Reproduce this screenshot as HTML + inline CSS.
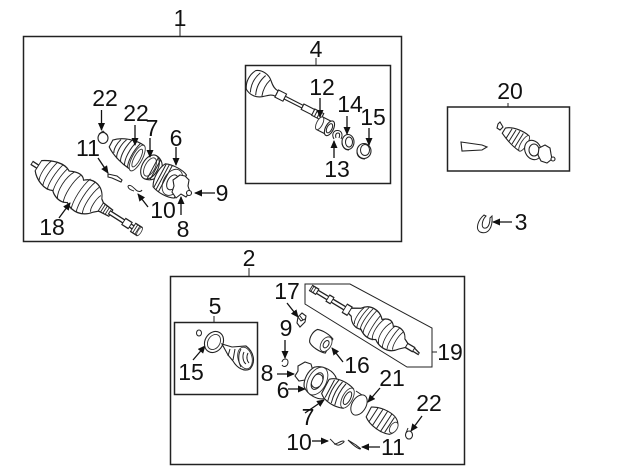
<!DOCTYPE html>
<html><head><meta charset="utf-8"><style>
html,body{margin:0;padding:0;background:#fff}
svg{display:block}
text{font-family:"Liberation Sans",sans-serif;font-size:23px;fill:#111;text-anchor:middle}
.b{fill:none;stroke:#222;stroke-width:1.5}
.t{fill:none;stroke:#222;stroke-width:1}
.p{fill:#fff;stroke:#222;stroke-width:1.1}
.s{fill:#fff;stroke:#333;stroke-width:.9}
.a{stroke:#111;stroke-width:1.3;fill:none}
</style></head><body>
<svg width="640" height="471" viewBox="0 0 640 471" xmlns="http://www.w3.org/2000/svg">
<defs>
<marker id="m" markerWidth="8" markerHeight="7" refX="7" refY="3.5" orient="auto" markerUnits="userSpaceOnUse"><path d="M0 0L8 3.5L0 7z" fill="#111"/></marker>
</defs>
<rect width="640" height="471" fill="#fff"/>
<!-- boxes -->
<rect class="b" x="23.5" y="36.5" width="378" height="205"/>
<rect class="b" x="245.5" y="65.5" width="145" height="118"/>
<rect class="b" x="447.5" y="107" width="122" height="64"/>
<rect class="b" x="170.5" y="276.5" width="294" height="188"/>
<rect class="b" x="174.5" y="322.5" width="83" height="72"/>
<path class="t" d="M305 284H350L432 328V367H407L305 304Z"/>
<path class="t" d="M180 25V36M316 58V65M508 103V107M249 268V276M214 316V322M432 352H437"/>

<!-- left axle, box 1 -->
<g transform="translate(32,163) rotate(32.500) scale(.85,1.2)">
<path class="p" d="M0 -1.500H10V1.500H0Z"/>
<path class="p" d="M8 -6C18 -11 32 -15 42 -11C50 -14 58 -15 62 -11C72 -18 86 -15 92 -6L98 -3V3L92 7C84 15 70 17 60 12C52 16 42 13 38 10C28 14 14 9 8 4Z"/>
<path class="t" d="M18 -10C15 -4 15 5 18 9M25 -12C22 -4 22 6 25 11M32 -13C29 -4 29 7 32 12M39 -12C36 -4 36 6 39 11M48 -13C42 -5 42 8 48 14M56 -13C52 -5 52 8 56 14M68 -15C64 -6 64 8 68 15M75 -15C71 -6 71 8 75 15M82 -13C78 -5 78 8 82 13M89 -8C86 -4 86 6 89 8"/>
<path class="p" d="M96 -4L110 -3V3L96 4Z"/>
<path class="t" d="M99 -4V4M102 -4V4M105 -3V3"/>
<path class="p" d="M108 -1.500H128V1.500H108ZM128 -3H137V3H128ZM137 -1.500H141V1.500H137ZM141 -4H150V4H141Z"/>
<path class="t" d="M144 -4V4M147 -4V4"/>
<ellipse class="s" cx="150" cy="0" rx="2" ry="4"/>
</g>

<!-- clip / boot top -->
<ellipse class="p" cx="103" cy="138" rx="5" ry="5.500"/>
<path class="t" d="M99 134L103 131L107 135"/>
<g transform="translate(124,151) rotate(28) scale(1,1.1)">
<path class="p" d="M-15 -4C-8 -11 6 -14 15 -13L16 12C6 12 -8 8 -15 3Z"/>
<ellipse class="s" cx="15" cy="0" rx="5" ry="13"/>
<ellipse class="s" cx="15" cy="0" rx="3" ry="9"/>
<path class="t" d="M-8 -8C-10 -3 -10 3 -8 6M-3 -10C-6 -4 -6 5 -3 9M2 -12C-1 -4 -1 6 2 10M7 -13C4 -4 4 6 7 11M11 -13C8 -4 8 7 11 12"/>
</g>
<g transform="translate(150,167) rotate(28)">
<path class="p" d="M0 -13C7 -13 12 -7 12 0C12 7 7 13 0 13"/>
<ellipse class="p" cx="0" cy="0" rx="8" ry="13"/>
<ellipse class="s" cx="0" cy="0" rx="5" ry="10"/>
<path class="t" d="M3 -13V13M6 -11V11"/>
</g>
<g transform="translate(168,180) rotate(28)">
<path class="p" d="M-10 -13C-3 -16 9 -16 14 -13L14 13C8 16 -3 16 -10 13C-14 6 -14 -6 -10 -13Z"/>
<ellipse class="s" cx="5" cy="0" rx="9" ry="14"/>
<ellipse class="t" cx="5" cy="0" rx="5" ry="8"/>
<path class="t" d="M-6 -14V14M-3 -15V15M-9 -13V13"/>
</g>
<path class="p" d="M180 175L185 176L189 180L188 186L190 192L186 197L181 194L176 198L172 192L174 186L173 180Z"/>
<circle class="p" cx="189" cy="193" r="2.500"/>
<!-- hardware 11 and 10 -->
<path class="p" d="M108 174L117 176L122 180L121 182L112 178L108 177Z"/>
<path class="t" d="M128 186C130 184 133 187 136 190C138 192 141 192 142 190M128 186C128 189 131 190 134 191"/>

<!-- labels box 1 -->
<text x="180" y="26">1</text>
<text x="105" y="106">22</text>
<text x="136" y="121">22</text>
<text x="152" y="136">7</text>
<text x="176" y="146">6</text>
<text x="88" y="156">11</text>
<text x="222" y="201">9</text>
<text x="163" y="218">10</text>
<text x="183" y="237">8</text>
<text x="52" y="235">18</text>
<path class="a" marker-end="url(#m)" d="M101.500 110V130"/>
<path class="a" marker-end="url(#m)" d="M135 125V145"/>
<path class="a" marker-end="url(#m)" d="M150 138V157"/>
<path class="a" marker-end="url(#m)" d="M176 147V165"/>
<path class="a" marker-end="url(#m)" d="M98 158L108 173"/>
<path class="a" marker-end="url(#m)" d="M215 193H195"/>
<path class="a" marker-end="url(#m)" d="M148 207L138 194"/>
<path class="a" marker-end="url(#m)" d="M181 215V197"/>
<path class="a" marker-end="url(#m)" d="M59 218L70 203"/>

<!-- box 4 parts -->
<g transform="translate(258,84) rotate(27)">
<path class="p" d="M-8 -11C-2 -15 6 -13 10 -9C14 -5 17 -3 21 -3L21 3C16 3 14 6 10 9C5 13 -2 14 -8 10C-12 4 -12 -5 -8 -11Z"/>
<path class="t" d="M-3 -11C-6 -4 -6 4 -3 11M3 -11C0 -4 0 4 3 11M9 -9C7 -3 7 3 9 9"/>
<path class="p" d="M21 -4H30V4H21ZM30 -1.500H50V1.500H30ZM50 -3H62V3H50ZM62 -3.500H72V3.500H62Z"/>
<path class="t" d="M65 -3.500V3.500M68 -3.500V3.500"/>
</g>
<g transform="translate(325,126) rotate(27)">
<path class="p" d="M-6 -7H5V7H-6Z"/>
<ellipse class="s" cx="-6" cy="0" rx="3" ry="7"/>
<ellipse class="p" cx="5" cy="0" rx="4" ry="8"/>
<ellipse class="t" cx="5" cy="0" rx="2.500" ry="5"/>
</g>
<path class="t" stroke-width="1.500" d="M334 139C331 134 334 130 338 130.500C342 131 343 135 341 139M336 138C335 135 336 133 338 133C340 133 340 135 339 138"/>
<ellipse class="p" cx="348" cy="142" rx="6" ry="7.500"/>
<ellipse class="t" cx="349" cy="142" rx="3.500" ry="5"/>
<path class="t" d="M342 142C342 147 345 150 349 150"/>
<ellipse class="p" cx="364" cy="151" rx="7" ry="7.500"/>
<ellipse class="t" cx="365" cy="150" rx="4.500" ry="5.500"/>
<path class="t" d="M357 152C357 156 360 159 365 159"/>
<text x="316" y="57">4</text>
<text x="322" y="95">12</text>
<text x="350" y="112">14</text>
<text x="373" y="125">15</text>
<text x="337" y="177">13</text>
<path class="a" marker-end="url(#m)" d="M320 98V117"/>
<path class="a" marker-end="url(#m)" d="M347 116V134"/>
<path class="a" marker-end="url(#m)" d="M369 128V145"/>
<path class="a" marker-end="url(#m)" d="M334 158V141"/>

<!-- box 20 -->
<text x="510" y="99">20</text>
<path class="p" d="M461 142L482 145L487 147L482 150L462 151Z"/>
<path class="p" d="M498 124L500 122L503 127L500 130L497 128Z"/>
<g transform="translate(514,137) rotate(32)">
<path class="p" d="M-12 -3C-6 -9 6 -10 12 -9V9C5 9 -5 6 -12 3Z"/>
<ellipse class="s" cx="12" cy="0" rx="3" ry="9"/>
<path class="t" d="M-6 -6V5M-2 -7V7M2 -8V7M6 -8V8"/>
</g>
<ellipse class="p" cx="533" cy="150" rx="8" ry="10" transform="rotate(-25 533 150)"/>
<ellipse class="t" cx="534" cy="150" rx="5" ry="6"/>
<path class="p" d="M545 145L550 148L551 154L552 159L547 163L541 161L538 155L539 148Z"/>
<circle class="p" cx="553" cy="159" r="2"/>

<!-- 3 -->
<path class="t" stroke-width="1.400" d="M484 215C478 220 475 229 480 232C488 235 493 228 492 216L490 218C490 224 488 229 484 228C481 227 482 220 486 216Z"/>
<text x="521" y="230">3</text>
<path class="a" marker-end="url(#m)" d="M512 222H493"/>

<!-- box 2 labels -->
<text x="249" y="266">2</text>
<text x="215" y="314">5</text>
<text x="191" y="380">15</text>
<text x="287" y="299">17</text>
<text x="286" y="336">9</text>
<text x="267" y="381">8</text>
<text x="283" y="398">6</text>
<text x="357" y="373">16</text>
<text x="450" y="360">19</text>
<text x="392" y="386">21</text>
<text x="429" y="411">22</text>
<text x="308" y="425">7</text>
<text x="299" y="450">10</text>
<text x="393" y="455">11</text>
<path class="a" marker-end="url(#m)" d="M193 360L205 346"/>
<path class="a" marker-end="url(#m)" d="M287 303L298 317"/>
<path class="a" marker-end="url(#m)" d="M285 340V358"/>
<path class="a" marker-end="url(#m)" d="M277 374H294"/>
<path class="a" marker-end="url(#m)" d="M288 389H305"/>
<path class="a" marker-end="url(#m)" d="M343 362L332 348"/>
<path class="a" marker-end="url(#m)" d="M380 388L368 402"/>
<path class="a" marker-end="url(#m)" d="M422 416L411 431"/>
<path class="a" marker-end="url(#m)" d="M305 413L324 400"/>
<path class="a" marker-end="url(#m)" d="M312 441H328"/>
<path class="a" marker-end="url(#m)" d="M380 447H362"/>

<!-- box 5 part -->
<ellipse class="t" cx="199" cy="333" rx="2.500" ry="3"/>
<g transform="translate(214,342) rotate(30)">
<ellipse class="p" cx="0" cy="0" rx="9" ry="11"/>
<ellipse class="s" cx="0" cy="0" rx="6" ry="8"/>
</g>
<path class="p" d="M222 344L232 347L246 346C254 352 256 362 250 369C244 372 237 368 233 361L228 355Z"/>
<ellipse class="s" cx="245" cy="358" rx="7" ry="11" transform="rotate(-15 245 358)"/>
<path class="t" d="M230 349L228 356M235 349L233 360M241 349C238 354 238 362 241 367M244 352C242 356 243 362 246 364M248 353C246 357 247 361 249 363"/>

<!-- 17, 9 parts -->
<path class="p" d="M298 317L302 313L306 316L305 322L300 327L297 323Z"/>
<path class="t" d="M298 317L301 321L305 319M300 316L303 320"/>
<path class="t" stroke-width="1.300" d="M282 362C283 358 288 358 288 362C288 366 284 368 282 365"/>

<!-- 19 axle -->
<g transform="translate(311,288) rotate(31) scale(.82,1.2)">
<path class="p" d="M0 -2.500H9V2.500H0Z"/>
<path class="t" d="M2 -2.500V2.500M5 -2.500V2.500"/>
<path class="p" d="M9 -1.500H24V1.500H9ZM24 -3H30V3H24ZM30 -1.500H48V1.500H30ZM48 -4H55V4H48Z"/>
<path class="p" d="M55 -3L65 -7C72 -14 86 -14 94 -8C100 -12 106 -12 110 -8C116 -11 126 -10 130 -4L136 -2V2L130 6C122 14 108 13 100 9C94 12 86 12 78 8C72 10 64 8 60 3L55 2Z"/>
<path class="t" d="M68 -9C65 -3 65 5 68 7M73 -11C70 -3 70 5 73 9M78 -12C75 -3 75 6 78 9M83 -12C80 -3 80 7 83 10M90 -10C88 -3 88 7 90 11M97 -10C92 -3 92 7 97 11M106 -10C100 -3 100 7 106 11M112 -9C108 -3 108 7 112 12M118 -10C115 -3 115 8 118 11M124 -8C121 -3 121 6 124 9"/>
<path class="p" d="M136 -2H146V2H136ZM146 -1.500L154 0V1.500H146Z"/>
</g>
<!-- 16 -->
<g transform="translate(321,341) rotate(32)">
<path class="p" d="M-9 -8C-4 -10 4 -10 9 -8L10 8C5 10 -5 10 -9 7C-12 3 -12 -4 -9 -8Z"/>
<ellipse class="s" cx="6" cy="0" rx="5" ry="8"/>
<ellipse class="t" cx="6" cy="0" rx="2.500" ry="4"/>
</g>
<!-- 8,6,7 -->
<path class="p" d="M298 366L305 362L311 364L313 371L311 377L305 380L299 381L295 376L298 371Z"/>
<g transform="translate(319,382) rotate(28)">
<path class="p" d="M-11 -11C-4 -17 8 -17 14 -11L14 11C8 17 -4 17 -11 11C-15 5 -15 -5 -11 -11Z"/>
<ellipse class="s" cx="-2" cy="0" rx="9" ry="15"/>
<ellipse class="t" cx="-2" cy="0" rx="5" ry="9"/>
<path class="t" d="M-6 -5C-4 -8 1 -8 2 -4M-6 5C-4 8 1 8 2 4"/>
</g>
<g transform="translate(336,392) rotate(28)">
<path class="p" d="M-12 -8C-6 -14 6 -14 14 -11L14 11C6 14 -6 14 -12 8Z"/>
<ellipse class="s" cx="13" cy="0" rx="5" ry="11"/>
<ellipse class="t" cx="13" cy="0" rx="3" ry="7"/>
<path class="t" d="M-7 -10V10M-3 -12C-5 -4 -5 4 -3 12M1 -12C-1 -4 -1 4 1 12M5 -12C3 -4 3 4 5 12"/>
</g>
<!-- 21 clamp -->
<ellipse class="t" stroke-width="1.500" cx="359" cy="405" rx="7" ry="11" transform="rotate(30 359 405)"/>
<path class="t" d="M356 391L362 395"/>
<!-- boot -->
<g transform="translate(382,420) rotate(33)">
<path class="p" d="M-16 -5C-8 -11 8 -13 14 -7C18 -3 18 4 14 8C6 12 -8 11 -15 6Z"/>
<ellipse class="s" cx="14" cy="0" rx="3.500" ry="6"/>
<path class="t" d="M-10 -8V9M-5 -10V10M0 -11V11M5 -11V11M9 -9V9"/>
</g>
<!-- 22 clip, 10, 11 hardware -->
<ellipse class="p" cx="409" cy="435" rx="3.500" ry="4"/>
<path class="t" d="M406 433L408 428"/>
<path class="t" d="M330 439C333 441 335 446 339 445C342 444 346 441 343 441C340 441 338 444 334 444"/>
<path class="t" d="M348 440L356 445C358 447 362 449 360 449C356 448 351 443 348 440Z"/>
</svg>
</body></html>
